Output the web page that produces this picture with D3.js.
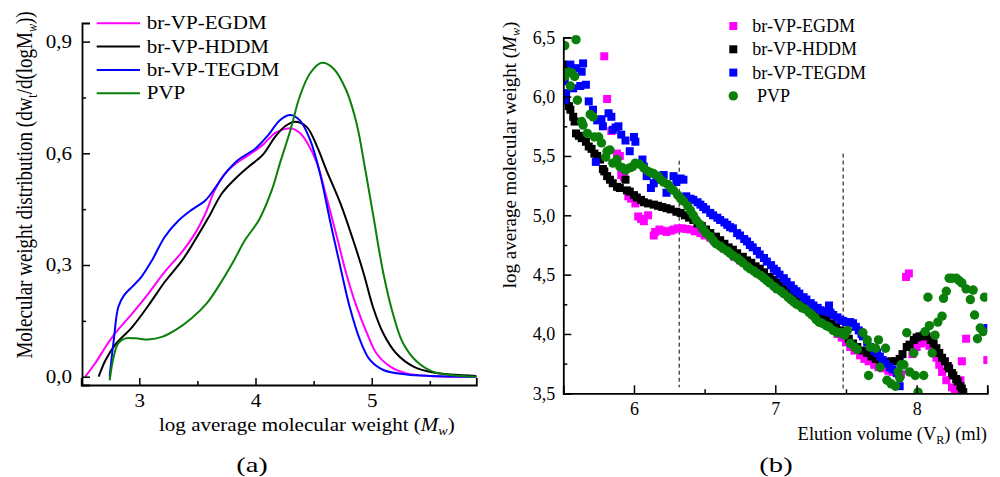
<!DOCTYPE html>
<html><head><meta charset="utf-8">
<script src="https://cdn.jsdelivr.net/npm/d3@7"></script>
<style>
html,body{margin:0;padding:0;background:#fff;}
svg{display:block;font-family:"Liberation Serif","Times New Roman",serif;}
</style></head>
<body>
<svg id="chart" width="1000" height="477"></svg>
<script>
// ---------- DATA: panel (a) molecular weight distribution [logMw, dw/dlogM] ----------
const seriesNames = ["br-VP-EGDM", "br-VP-HDDM", "br-VP-TEGDM", "PVP"];
const distEGDM = [[2.535,0],[2.62,0.036],[2.72,0.085],[2.79,0.116],[2.94,0.17],[3.08,0.224],[3.22,0.282],[3.37,0.336],[3.48,0.385],[3.57,0.439],[3.65,0.501],[3.74,0.546],[3.83,0.573],[3.94,0.595],[4.06,0.622],[4.17,0.655],[4.25,0.665],[4.31,0.667],[4.38,0.655],[4.44,0.631],[4.53,0.573],[4.61,0.483],[4.70,0.376],[4.78,0.278],[4.87,0.188],[4.96,0.116],[5.04,0.063],[5.16,0.027],[5.30,0.009],[5.50,0.002],[5.90,0]];
const distHDDM = [[2.65,0],[2.71,0.045],[2.79,0.085],[2.94,0.134],[3.08,0.192],[3.22,0.255],[3.37,0.313],[3.48,0.367],[3.60,0.43],[3.71,0.492],[3.83,0.533],[3.94,0.564],[4.06,0.595],[4.17,0.645],[4.26,0.674],[4.34,0.685],[4.44,0.671],[4.53,0.618],[4.61,0.555],[4.73,0.466],[4.84,0.367],[4.93,0.278],[5.01,0.188],[5.10,0.116],[5.21,0.063],[5.36,0.027],[5.53,0.011],[5.90,0.002]];
const distTEGDM = [[2.745,0],[2.78,0.098],[2.82,0.188],[2.87,0.219],[2.94,0.242],[3.02,0.269],[3.11,0.313],[3.22,0.376],[3.34,0.42],[3.45,0.448],[3.57,0.474],[3.65,0.506],[3.74,0.546],[3.85,0.582],[4.0,0.613],[4.11,0.649],[4.21,0.689],[4.30,0.703],[4.38,0.689],[4.47,0.636],[4.555,0.546],[4.64,0.421],[4.73,0.295],[4.81,0.188],[4.90,0.098],[4.985,0.045],[5.10,0.018],[5.30,0.006],[5.50,0.002],[5.90,0]];
const distPVP = [[2.745,-0.01],[2.78,0.054],[2.82,0.09],[2.88,0.103],[2.97,0.103],[3.08,0.10],[3.195,0.107],[3.31,0.125],[3.45,0.157],[3.58,0.197],[3.68,0.242],[3.80,0.304],[3.91,0.367],[4.03,0.421],[4.14,0.501],[4.21,0.573],[4.30,0.662],[4.38,0.752],[4.47,0.815],[4.57,0.843],[4.67,0.828],[4.78,0.77],[4.87,0.68],[4.94,0.564],[5.01,0.439],[5.10,0.278],[5.19,0.161],[5.27,0.09],[5.39,0.04],[5.53,0.013],[5.70,0.004],[5.90,0]];

const leftXMajor = [3, 4, 5];
const leftXMinor = [3.5, 4.5, 5.5];
const leftYMajor = [0, 0.3, 0.6, 0.9];
const leftYMinor = [0.15, 0.45, 0.75];

// ---------- DATA: panel (b) log Mw vs elution volume [VR, logMw] ----------
const elEGDM = [[5.79,6.34],[5.81,5.98],[5.84,5.71],[5.88,5.52],[5.90,5.50],[5.91,5.34],[5.93,5.32],[5.96,5.16],[5.98,5.14],[6.01,5.10],[6.03,4.99],[6.05,4.97],[6.07,4.95],[6.10,5.00],[6.14,4.83],[6.15,4.86],[6.18,4.88],[6.20,4.87],[6.23,4.86],[6.26,4.87],[6.28,4.88],[6.31,4.89],[6.34,4.89],[6.37,4.885],[6.40,4.88],[6.43,4.865],[6.47,4.85],[6.50,4.83],[6.54,4.81],[6.57,4.78],[6.61,4.75],[6.64,4.72],[6.68,4.69],[6.71,4.65],[6.75,4.62],[6.78,4.60],[6.82,4.57],[6.85,4.54],[6.89,4.51],[6.92,4.48],[6.96,4.45],[6.99,4.43],[7.03,4.39],[7.06,4.36],[7.09,4.33],[7.13,4.30],[7.17,4.26],[7.20,4.23],[7.24,4.20],[7.27,4.17],[7.31,4.13],[7.34,4.11],[7.37,4.08],[7.41,4.04],[7.44,4.00],[7.47,3.97],[7.50,3.93],[7.53,3.89],[7.56,3.86],[7.60,3.82],[7.63,3.79],[7.66,3.77],[7.70,3.74],[7.73,3.72],[7.76,3.71],[7.80,3.69],[7.83,3.68],[7.86,3.67],[7.89,3.66],[7.925,4.48],[7.945,4.51],[7.97,3.83],[8.00,3.89],[8.03,3.92],[8.06,3.93],[8.09,3.90],[8.12,3.86],[8.14,3.80],[8.16,3.74],[8.18,3.68],[8.21,3.61],[8.25,3.55],[8.27,3.53],[8.31,3.61],[8.32,3.77],[8.35,3.96],[8.50,3.78]];
const elHDDM = [[5.50,6.27],[5.52,5.97],[5.54,5.92],[5.55,5.89],[5.57,5.83],[5.58,5.79],[5.59,5.69],[5.61,5.67],[5.63,5.65],[5.66,5.62],[5.68,5.58],[5.70,5.56],[5.72,5.52],[5.74,5.50],[5.76,5.47],[5.78,5.39],[5.79,5.37],[5.81,5.33],[5.83,5.30],[5.85,5.27],[5.88,5.24],[5.90,5.23],[5.94,5.30],[5.95,5.21],[5.97,5.20],[6.00,5.17],[6.02,5.15],[6.05,5.13],[6.07,5.11],[6.10,5.10],[6.14,5.09],[6.17,5.08],[6.20,5.07],[6.23,5.06],[6.26,5.05],[6.30,5.03],[6.33,5.02],[6.36,5.00],[6.39,4.98],[6.42,4.96],[6.45,4.93],[6.48,4.91],[6.51,4.88],[6.54,4.85],[6.58,4.82],[6.61,4.79],[6.64,4.76],[6.67,4.73],[6.70,4.71],[6.73,4.68],[6.77,4.65],[6.80,4.62],[6.83,4.60],[6.86,4.57],[6.89,4.55],[6.92,4.52],[6.96,4.48],[6.99,4.455],[7.02,4.43],[7.05,4.40],[7.08,4.37],[7.11,4.33],[7.14,4.30],[7.17,4.27],[7.20,4.25],[7.24,4.22],[7.27,4.19],[7.30,4.17],[7.33,4.14],[7.36,4.12],[7.40,4.09],[7.43,4.06],[7.46,4.03],[7.49,4.00],[7.52,3.96],[7.55,3.92],[7.58,3.89],[7.62,3.86],[7.65,3.84],[7.68,3.81],[7.71,3.79],[7.74,3.78],[7.77,3.76],[7.80,3.76],[7.82,3.77],[7.85,3.77],[7.88,3.79],[7.90,3.83],[7.93,3.89],[7.95,3.91],[7.98,3.95],[8.00,3.97],[8.02,3.98],[8.05,3.99],[8.07,3.98],[8.10,3.95],[8.12,3.92],[8.14,3.88],[8.16,3.84],[8.18,3.80],[8.20,3.77],[8.22,3.73],[8.23,3.71],[8.25,3.67],[8.26,3.65],[8.28,3.62],[8.29,3.60],[8.31,3.56],[8.32,3.54],[8.33,3.51]];
const elTEGDM = [[5.51,6.13],[5.51,5.97],[5.52,6.03],[5.55,6.27],[5.57,6.07],[5.59,6.24],[5.62,6.09],[5.63,6.21],[5.64,6.28],[5.66,6.10],[5.68,5.96],[5.71,5.89],[5.73,5.45],[5.74,5.80],[5.77,5.81],[5.78,5.75],[5.82,5.86],[5.84,5.83],[5.85,5.72],[5.87,5.74],[5.89,5.75],[5.91,5.68],[5.94,5.63],[5.97,5.54],[6.00,5.66],[6.01,5.62],[6.06,5.47],[6.07,5.41],[6.09,5.33],[6.12,5.23],[6.14,5.27],[6.16,5.30],[6.19,5.32],[6.21,5.34],[6.23,5.19],[6.28,5.33],[6.30,5.28],[6.33,5.31],[6.35,5.30],[6.37,5.16],[6.40,5.14],[6.42,5.13],[6.45,5.11],[6.47,5.09],[6.49,5.07],[6.51,5.05],[6.54,5.02],[6.56,5.00],[6.59,4.98],[6.61,4.96],[6.64,4.94],[6.66,4.92],[6.68,4.90],[6.70,4.89],[6.73,4.85],[6.75,4.83],[6.78,4.80],[6.80,4.78],[6.82,4.75],[6.84,4.73],[6.87,4.70],[6.89,4.67],[6.92,4.64],[6.94,4.61],[6.97,4.58],[6.99,4.55],[7.01,4.53],[7.03,4.50],[7.06,4.47],[7.08,4.44],[7.11,4.41],[7.13,4.38],[7.15,4.36],[7.17,4.34],[7.20,4.31],[7.22,4.29],[7.25,4.26],[7.27,4.24],[7.30,4.22],[7.32,4.20],[7.35,4.19],[7.38,4.24],[7.39,4.18],[7.41,4.16],[7.44,4.14],[7.46,4.12],[7.48,4.11],[7.50,4.10],[7.53,4.10],[7.55,4.09],[7.57,4.06],[7.59,4.03],[7.61,4.00],[7.62,3.98],[7.65,3.93],[7.67,3.89],[7.70,3.86],[7.72,3.84],[7.74,3.81],[7.76,3.78],[7.78,3.75],[7.81,3.72],[7.83,3.70],[7.86,3.67],[7.88,3.56],[8.50,4.05]];
const elPVP = [[5.51,6.43],[5.59,6.48],[5.51,6.17],[5.53,6.21],[5.56,6.20],[5.58,6.17],[5.55,6.09],[5.60,5.97],[5.63,5.79],[5.64,5.76],[5.67,5.69],[5.69,5.85],[5.71,5.83],[5.72,5.66],[5.75,5.66],[5.77,5.61],[5.80,5.49],[5.81,5.54],[5.83,5.55],[5.85,5.44],[5.88,5.47],[5.90,5.41],[5.92,5.40],[5.94,5.38],[5.97,5.40],[5.99,5.41],[6.01,5.44],[6.04,5.43],[6.07,5.40],[6.10,5.37],[6.12,5.36],[6.14,5.35],[6.17,5.33],[6.19,5.30],[6.21,5.28],[6.24,5.26],[6.26,5.23],[6.28,5.21],[6.31,5.17],[6.33,5.14],[6.35,5.12],[6.38,5.08],[6.40,5.04],[6.42,5.00],[6.44,4.96],[6.47,4.92],[6.49,4.88],[6.51,4.85],[6.54,4.82],[6.56,4.79],[6.58,4.76],[6.61,4.74],[6.63,4.72],[6.66,4.70],[6.68,4.68],[6.70,4.66],[6.73,4.64],[6.75,4.62],[6.77,4.60],[6.80,4.57],[6.82,4.55],[6.85,4.53],[6.87,4.51],[6.90,4.49],[6.92,4.47],[6.94,4.45],[6.96,4.43],[6.99,4.40],[7.01,4.38],[7.04,4.36],[7.06,4.34],[7.09,4.31],[7.11,4.29],[7.13,4.27],[7.15,4.25],[7.17,4.24],[7.19,4.22],[7.21,4.21],[7.24,4.18],[7.26,4.16],[7.28,4.14],[7.29,4.12],[7.31,4.10],[7.33,4.09],[7.36,4.07],[7.38,4.06],[7.41,4.03],[7.43,4.02],[7.44,4.01],[7.46,4.01],[7.48,4.01],[7.49,3.99],[7.51,4.03],[7.53,3.92],[7.56,3.89],[7.58,3.87],[7.62,4.01],[7.65,3.95],[7.67,3.89],[7.66,3.65],[7.71,3.88],[7.73,3.95],[7.74,3.72],[7.78,3.88],[7.79,3.61],[7.82,3.58],[7.85,3.56],[7.87,3.68],[7.88,3.63],[7.89,3.74],[7.91,3.74],[7.93,4.01],[7.95,3.68],[7.98,3.84],[7.99,3.65],[8.01,3.51],[8.05,3.65],[8.06,4.02],[8.08,4.31],[8.09,4.07],[8.11,3.84],[8.13,3.99],[8.15,4.10],[8.18,4.15],[8.19,4.30],[8.21,4.36],[8.23,4.47],[8.25,4.47],[8.28,4.47],[8.30,4.45],[8.32,4.43],[8.35,4.38],[8.38,4.29],[8.40,4.37],[8.41,4.16],[8.43,3.96],[8.45,4.05],[8.47,4.02],[8.48,4.31]];

const rightXMajor = [6, 7, 8];
const rightXMinor = [5.5, 6.5, 7.5, 8.5];
const rightYMajor = [3.5, 4.0, 4.5, 5.0, 5.5, 6.0, 6.5];
const rightYMinor = [3.75, 4.25, 4.75, 5.25, 5.75, 6.25];
const dashX = [6.32, 7.48];
const dashTop = [5.46, 5.52];
const dashBottom = [3.55, 3.53];

// ---------- STYLE ----------
const colors = ["#ff00ff", "#000000", "#0000ff", "#0a800a"];
const SX = 1.17; // horizontal stretch of panel (a) lettering
const svg = d3.select("#chart");
const comma = d => d3.format(".1f")(d).replace(".", ",");

function styleAxis(g, w) {
  g.select(".domain").attr("stroke", "#000").attr("stroke-width", w);
  g.selectAll(".tick line").attr("stroke", "#000").attr("stroke-width", 1.5);
  g.selectAll("text").attr("fill", "#000").attr("font-family", "Liberation Serif, Times New Roman, serif").attr("font-size", 18);
}

// ================= PANEL (a) =================
const xA = d3.scaleLinear().domain([2.5, 5.9]).range([81.2, 476.3]);
const yA = d3.scaleLinear().domain([-0.0223, 0.95]).range([385, 23]);
const gA = svg.append("g");

const lineA = d3.line().x(d => xA(d[0])).y(d => yA(d[1])).curve(d3.curveCatmullRom.alpha(0.5));
[distEGDM, distHDDM, distTEGDM, distPVP].forEach((s, i) => {
  gA.append("path").datum(s).attr("d", lineA).attr("fill", "none")
    .attr("stroke", colors[i]).attr("stroke-width", 2);
});

// axes
const axYA = gA.append("g").attr("transform", "translate(82,0)")
  .call(d3.axisLeft(yA).tickValues(leftYMajor).tickSize(-8).tickPadding(10).tickFormat(comma));
styleAxis(axYA, 1.8);
axYA.selectAll("text").attr("x", 0).attr("transform", `translate(-10,0) scale(${SX},1)`);
const axYAm = gA.append("g").attr("transform", "translate(82,0)")
  .call(d3.axisLeft(yA).tickValues(leftYMinor).tickSize(-4).tickFormat(""));
axYAm.select(".domain").remove(); axYAm.selectAll(".tick line").attr("stroke-width", 1.5);

const axXA = gA.append("g").attr("transform", "translate(0,385)")
  .call(d3.axisBottom(xA).tickValues(leftXMajor).tickSize(-7).tickPadding(9).tickFormat(d3.format("d")));
styleAxis(axXA, 1.8);
axXA.selectAll("text").attr("transform", `scale(${SX},1)`).attr("x", 0);
axXA.selectAll(".tick text").each(function(){ });
const axXAm = gA.append("g").attr("transform", "translate(0,385)")
  .call(d3.axisBottom(xA).tickValues(leftXMinor).tickSize(-4).tickFormat(""));
axXAm.select(".domain").remove(); axXAm.selectAll(".tick line").attr("stroke-width", 1.5);

// legend (a)
seriesNames.forEach((n, i) => {
  const y = 23.3 + i * 23.3;
  gA.append("line").attr("x1", 96.7).attr("x2", 140).attr("y1", y).attr("y2", y)
    .attr("stroke", colors[i]).attr("stroke-width", 2);
  gA.append("text").attr("transform", `translate(146.7,${y + 6}) scale(${SX},1)`)
    .attr("font-size", 18).attr("fill", "#000").text(n);
});

// y label (a)
const ylA = gA.append("text").attr("transform", `translate(32,185) rotate(-90) scale(1,${SX})`)
  .attr("text-anchor", "middle").attr("font-size", 19).attr("fill", "#000");
ylA.append("tspan").text("Molecular weight distribution (dw");
ylA.append("tspan").attr("font-size", 12).attr("dy", 4).text("t");
ylA.append("tspan").attr("dy", -4).text("/d(logM");
ylA.append("tspan").attr("font-size", 12).attr("font-style", "italic").attr("dy", 4).text("w");
ylA.append("tspan").attr("dy", -4).text("))");

// x label (a)
const xlA = gA.append("text").attr("transform", `translate(159,431) scale(${SX},1)`)
  .attr("font-size", 18).attr("fill", "#000");
xlA.append("tspan").text("log average molecular weight (");
xlA.append("tspan").attr("font-style", "italic").text("M");
xlA.append("tspan").attr("font-style", "italic").attr("font-size", 12).attr("dy", 4).text("w");
xlA.append("tspan").attr("dy", -4).text(")");

gA.append("text").attr("transform", `translate(252,472) scale(1.3,1)`).attr("text-anchor", "middle")
  .attr("font-size", 22).attr("fill", "#000").text("(a)");

// ================= PANEL (b) =================
const xB = d3.scaleLinear().domain([5.5, 8.5]).range([563.3, 987.3]);
const yB = d3.scaleLinear().domain([3.5, 6.5]).range([393.3, 37.3]);
const gB = svg.append("g");

svg.append("defs").append("clipPath").attr("id", "clipB")
  .append("rect").attr("x", 563.3).attr("y", 0).attr("width", 424).attr("height", 393.3);

// dashed lines
dashX.forEach((v, i) => {
  gB.append("line").attr("x1", xB(v)).attr("x2", xB(v)).attr("y1", yB(dashTop[i])).attr("y2", yB(dashBottom[i]))
    .attr("stroke", "#000").attr("stroke-width", 1).attr("stroke-dasharray", "4,3");
});

const plotB = gB.append("g").attr("clip-path", "url(#clipB)");
const SQ = 8;
[elEGDM, elHDDM, elTEGDM].forEach((s, i) => {
  plotB.append("g").selectAll("rect").data(s).join("rect")
    .attr("x", d => xB(d[0]) - SQ / 2).attr("y", d => yB(d[1]) - SQ / 2)
    .attr("width", SQ).attr("height", SQ).attr("fill", colors[i]);
});
plotB.append("g").selectAll("circle").data(elPVP).join("circle")
  .attr("cx", d => xB(d[0])).attr("cy", d => yB(d[1])).attr("r", 4.7).attr("fill", colors[3]);

// axes (b)
const axYB = gB.append("g").attr("transform", "translate(563.3,0)")
  .call(d3.axisLeft(yB).tickValues(rightYMajor).tickSize(-8).tickPadding(8).tickFormat(comma));
styleAxis(axYB, 1.8);
const axYBm = gB.append("g").attr("transform", "translate(563.3,0)")
  .call(d3.axisLeft(yB).tickValues(rightYMinor).tickSize(-4).tickFormat(""));
axYBm.select(".domain").remove(); axYBm.selectAll(".tick line").attr("stroke-width", 1.5);

const axXB = gB.append("g").attr("transform", "translate(0,393.3)")
  .call(d3.axisBottom(xB).tickValues(rightXMajor).tickSize(-8).tickPadding(9).tickFormat(d3.format("d")));
styleAxis(axXB, 1.8);
const axXBm = gB.append("g").attr("transform", "translate(0,393.3)")
  .call(d3.axisBottom(xB).tickValues(rightXMinor).tickSize(-4).tickFormat(""));
axXBm.select(".domain").remove(); axXBm.selectAll(".tick line").attr("stroke-width", 1.5);

// legend (b)
seriesNames.forEach((n, i) => {
  const y = 26 + i * 23.3;
  if (i < 3) {
    gB.append("rect").attr("x", 733.3 - 4).attr("y", y - 4).attr("width", 8).attr("height", 8).attr("fill", colors[i]);
  } else {
    gB.append("circle").attr("cx", 733.3).attr("cy", y).attr("r", 4.7).attr("fill", colors[i]);
  }
  gB.append("text").attr("x", i < 3 ? 752.3 : 757).attr("y", y + 6)
    .attr("font-size", 18).attr("fill", "#000").text(n);
});

// y label (b)
const ylB = gB.append("text").attr("transform", "translate(516,155) rotate(-90)")
  .attr("text-anchor", "middle").attr("font-size", 19).attr("fill", "#000");
ylB.append("tspan").text("log average molecular weight (");
ylB.append("tspan").attr("font-style", "italic").text("M");
ylB.append("tspan").attr("font-style", "italic").attr("font-size", 12).attr("dy", 4).text("w");
ylB.append("tspan").attr("dy", -4).text(")");

// x label (b)
const xlB = gB.append("text").attr("x", 987).attr("y", 440).attr("text-anchor", "end")
  .attr("font-size", 18.5).attr("fill", "#000");
xlB.append("tspan").text("Elution volume (V");
xlB.append("tspan").attr("font-size", 12).attr("dy", 4).text("R");
xlB.append("tspan").attr("dy", -4).text(") (ml)");

gB.append("text").attr("transform", `translate(776,472) scale(1.3,1)`).attr("text-anchor", "middle")
  .attr("font-size", 22).attr("fill", "#000").text("(b)");
</script>
</body></html>
